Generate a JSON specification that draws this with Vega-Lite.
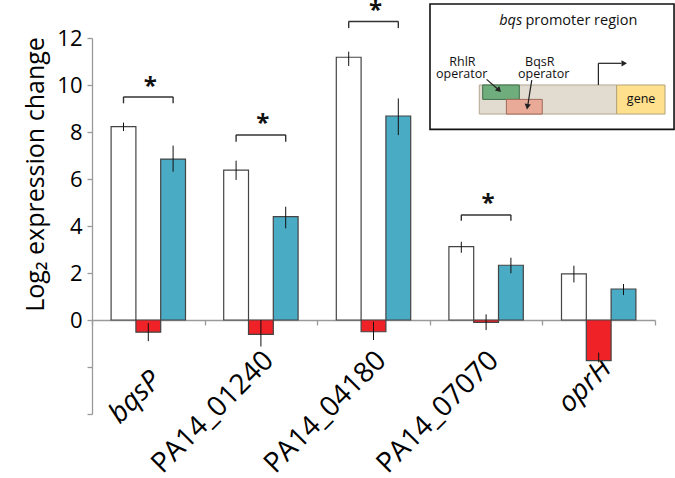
{
  "$schema": "https://vega.github.io/schema/vega-lite/v6.json",
  "width": 563,
  "height": 376,
  "autosize": "none",
  "padding": {"left": 92, "top": 38, "right": 20, "bottom": 64},
  "config": {
    "view": {"stroke": null},
    "font": "Open Sans"
  },
  "datasets": {
    "bars": [
      {"gene": "bqsP", "cond": "Condition 1", "value": 8.23, "lo": 8.04, "hi": 8.40},
      {"gene": "bqsP", "cond": "Condition 2", "value": -0.52, "lo": -0.90, "hi": -0.13},
      {"gene": "bqsP", "cond": "Condition 3", "value": 6.85, "lo": 6.31, "hi": 7.42},
      {"gene": "PA14_01240", "cond": "Condition 1", "value": 6.38, "lo": 5.96, "hi": 6.78},
      {"gene": "PA14_01240", "cond": "Condition 2", "value": -0.61, "lo": -1.13, "hi": 0.0},
      {"gene": "PA14_01240", "cond": "Condition 3", "value": 4.40, "lo": 3.90, "hi": 4.82},
      {"gene": "PA14_04180", "cond": "Condition 1", "value": 11.18, "lo": 10.81, "hi": 11.42},
      {"gene": "PA14_04180", "cond": "Condition 2", "value": -0.50, "lo": -0.85, "hi": -0.07},
      {"gene": "PA14_04180", "cond": "Condition 3", "value": 8.68, "lo": 7.87, "hi": 9.43},
      {"gene": "PA14_07070", "cond": "Condition 1", "value": 3.12, "lo": 2.86, "hi": 3.33},
      {"gene": "PA14_07070", "cond": "Condition 2", "value": -0.10, "lo": -0.43, "hi": 0.24},
      {"gene": "PA14_07070", "cond": "Condition 3", "value": 2.33, "lo": 1.99, "hi": 2.65},
      {"gene": "oprH", "cond": "Condition 1", "value": 1.96, "lo": 1.60, "hi": 2.31},
      {"gene": "oprH", "cond": "Condition 2", "value": -1.73, "lo": -1.80, "hi": -1.39},
      {"gene": "oprH", "cond": "Condition 3", "value": 1.32, "lo": 1.06, "hi": 1.53}
    ],
    "brackets": [
      {"gene": "bqsP", "top": 9.49, "ast": 10.17},
      {"gene": "PA14_01240", "top": 7.87, "ast": 8.6},
      {"gene": "PA14_04180", "top": 12.7, "ast": 13.4},
      {"gene": "PA14_07070", "top": 4.47, "ast": 5.19}
    ],
    "legs": [
      {"gene": "bqsP", "cond": "Condition 1", "top": 9.49, "low": 9.22},
      {"gene": "bqsP", "cond": "Condition 3", "top": 9.49, "low": 9.22},
      {"gene": "PA14_01240", "cond": "Condition 1", "top": 7.87, "low": 7.59},
      {"gene": "PA14_01240", "cond": "Condition 3", "top": 7.87, "low": 7.59},
      {"gene": "PA14_04180", "cond": "Condition 1", "top": 12.7, "low": 12.42},
      {"gene": "PA14_04180", "cond": "Condition 3", "top": 12.7, "low": 12.42},
      {"gene": "PA14_07070", "cond": "Condition 1", "top": 4.47, "low": 4.22},
      {"gene": "PA14_07070", "cond": "Condition 3", "top": 4.47, "low": 4.22}
    ]
  },
  "layer": [
    {
      "encoding": {
        "x": {
          "field": "gene",
          "type": "nominal",
          "sort": ["bqsP", "PA14_01240", "PA14_04180", "PA14_07070", "oprH"],
          "scale": {"paddingInner": 0, "paddingOuter": 0},
          "axis": {
            "title": null,
            "offset": -94,
            "domainColor": "#9a9a9a",
            "domainWidth": 1.3,
            "tickColor": "#9a9a9a",
            "tickWidth": 1.3,
            "tickSize": 5,
            "tickBand": "extent",
            "labelAngle": -45,
            "labelAlign": "right",
            "labelBaseline": "top",
            "labelFontSize": 28,
            "labelColor": "#000000",
            "labelLimit": 0,
            "labelOffset": -2,
            "labelPadding": {"condition": [
              {"test": "datum.value === 'bqsP'", "value": 41},
              {"test": "datum.value === 'oprH'", "value": 29}
            ], "value": 21},
            "labelFontStyle": {"condition": {"test": "datum.value === 'bqsP' || datum.value === 'oprH'", "value": "italic"}, "value": "normal"}
          }
        }
      },
      "layer": [
        {
          "data": {"name": "bars"},
          "mark": {"type": "bar", "stroke": "#444444", "strokeWidth": 1.2},
          "encoding": {
            "xOffset": {"field": "cond", "type": "nominal", "scale": {"domain": ["Condition 1", "Condition 2", "Condition 3"], "paddingOuter": 0.77, "paddingInner": 0}},
            "y": {
              "field": "value",
              "type": "quantitative",
              "scale": {"domain": [-4, 12], "nice": false, "zero": false},
              "axis": {
                "values": [-4, -2, 0, 2, 4, 6, 8, 10, 12],
                "labelExpr": "datum.value < 0 ? '' : datum.label",
                "grid": false,
                "domainColor": "#9a9a9a",
                "domainWidth": 1.3,
                "tickColor": "#9a9a9a",
                "tickWidth": 1.3,
                "tickSize": 5,
                "labelFontSize": 22,
                "labelColor": "#000000",
                "labelPadding": 5,
                "title": "Log₂ expression change",
                "titleFontSize": 25,
                "titleFontWeight": "normal",
                "titleColor": "#000000",
                "titleX": -57,
                "titleY": 136,
                "titleAlign": "center",
                "titleBaseline": "middle",
                "titleAngle": 270
              }
            },
            "y2": {"datum": 0},
            "fill": {
              "field": "cond",
              "type": "nominal",
              "scale": {"domain": ["Condition 1", "Condition 2", "Condition 3"], "range": ["#ffffff", "#ee2227", "#4aabc5"]},
              "legend": null
            }
          }
        },
        {
          "data": {"name": "bars"},
          "mark": {"type": "rule", "color": "#111111", "strokeWidth": 1},
          "encoding": {
            "xOffset": {"field": "cond", "type": "nominal"},
            "y": {"field": "lo", "type": "quantitative"},
            "y2": {"field": "hi"}
          }
        },
        {
          "data": {"name": "legs"},
          "mark": {"type": "rule", "color": "#333333", "strokeWidth": 1.4},
          "encoding": {
            "xOffset": {"field": "cond", "type": "nominal"},
            "y": {"field": "top", "type": "quantitative"},
            "y2": {"field": "low"}
          }
        },
        {
          "data": {"name": "brackets"},
          "mark": {"type": "tick", "orient": "horizontal", "size": 50, "thickness": 1.4, "color": "#333333", "opacity": 1},
          "encoding": {
            "y": {"field": "top", "type": "quantitative"}
          }
        },
        {
          "data": {"name": "brackets"},
          "mark": {"type": "text", "text": "*", "fontSize": 24, "fontWeight": "bold", "baseline": "middle", "dy": 6, "dx": 2, "color": "#111111"},
          "encoding": {
            "y": {"field": "ast", "type": "quantitative"}
          }
        }
      ]
    },
    {
      "encoding": {
        "x": {"field": "x1", "type": "quantitative", "scale": {"domain": [-138.5, 92.2], "nice": false, "zero": false}, "axis": null},
        "y": {"field": "y1", "type": "quantitative", "scale": {"domain": [-227.2, 72.9], "nice": false, "zero": false}, "axis": null}
      },
      "layer": [
        {
          "data": {"values": [{"x1": 0, "x2": 100, "y1": 0, "y2": 100}]},
          "mark": {"type": "rect", "fill": "#ffffff", "stroke": "#111111", "strokeWidth": 1.6},
          "encoding": {"x2": {"field": "x2"}, "y2": {"field": "y2"}}
        },
        {
          "data": {"values": [{"x1": 20.2, "x2": 76.5, "y1": 12.2, "y2": 35.4}]},
          "mark": {"type": "rect", "fill": "#e2dbd0", "stroke": "#b3a891", "strokeWidth": 1},
          "encoding": {"x2": {"field": "x2"}, "y2": {"field": "y2"}}
        },
        {
          "data": {"values": [{"x1": 76.5, "x2": 96.3, "y1": 12.2, "y2": 35.4}]},
          "mark": {"type": "rect", "fill": "#ffe08c", "stroke": "#b3a27a", "strokeWidth": 1},
          "encoding": {"x2": {"field": "x2"}, "y2": {"field": "y2"}}
        },
        {
          "data": {"values": [{"x1": 21.6, "x2": 36.6, "y1": 23.9, "y2": 35.4}]},
          "mark": {"type": "rect", "fill": "#6fae7c", "stroke": "#3f6e4a", "strokeWidth": 1},
          "encoding": {"x2": {"field": "x2"}, "y2": {"field": "y2"}}
        },
        {
          "data": {"values": [{"x1": 31.3, "x2": 46.0, "y1": 12.2, "y2": 23.9}]},
          "mark": {"type": "rect", "fill": "#eaaa98", "stroke": "#a0685a", "strokeWidth": 1},
          "encoding": {"x2": {"field": "x2"}, "y2": {"field": "y2"}}
        },
        {
          "data": {"values": [
            {"x1": 23.2, "y1": 39.9, "x2": 27.6, "y2": 32.4},
            {"x1": 41.7, "y1": 39.3, "x2": 40.1, "y2": 19.5},
            {"x1": 69.0, "y1": 35.4, "x2": 69.0, "y2": 52.7},
            {"x1": 69.0, "y1": 52.7, "x2": 78.5, "y2": 52.7}
          ]},
          "mark": {"type": "rule", "color": "#222222", "strokeWidth": 1.2},
          "encoding": {"x2": {"field": "x2"}, "y2": {"field": "y2"}}
        },
        {
          "data": {"values": [
            {"x1": 28.3, "y1": 31.3, "dir": 43.5},
            {"x1": 39.9, "y1": 18.0, "dir": 98.5},
            {"x1": 79.6, "y1": 52.7, "dir": 0}
          ]},
          "mark": {"type": "point", "shape": "triangle-right", "filled": true, "color": "#222222", "size": 40, "opacity": 1},
          "encoding": {"angle": {"field": "dir", "type": "quantitative", "scale": null}}
        },
        {
          "data": {"values": [{"x1": 37.8, "y1": 83.6, "t": "bqs"}]},
          "mark": {"type": "text", "align": "right", "baseline": "alphabetic", "fontSize": 14.5, "fontStyle": "italic", "color": "#111111"},
          "encoding": {"text": {"field": "t"}}
        },
        {
          "data": {"values": [{"x1": 39.1, "y1": 83.6, "t": "promoter region"}]},
          "mark": {"type": "text", "align": "left", "baseline": "alphabetic", "fontSize": 14.5, "color": "#111111"},
          "encoding": {"text": {"field": "t"}}
        },
        {
          "data": {"values": [
            {"x1": 13.3, "y1": 50.8, "t": "RhlR"},
            {"x1": 13.0, "y1": 41.2, "t": "operator"},
            {"x1": 45.0, "y1": 50.8, "t": "BqsR"},
            {"x1": 46.6, "y1": 41.2, "t": "operator"},
            {"x1": 86.5, "y1": 21.0, "t": "gene"}
          ]},
          "mark": {"type": "text", "align": "center", "baseline": "alphabetic", "fontSize": 12.5, "color": "#111111"},
          "encoding": {"text": {"field": "t"}}
        }
      ]
    }
  ],
  "resolve": {"scale": {"x": "independent", "y": "independent", "fill": "independent"}}
}
